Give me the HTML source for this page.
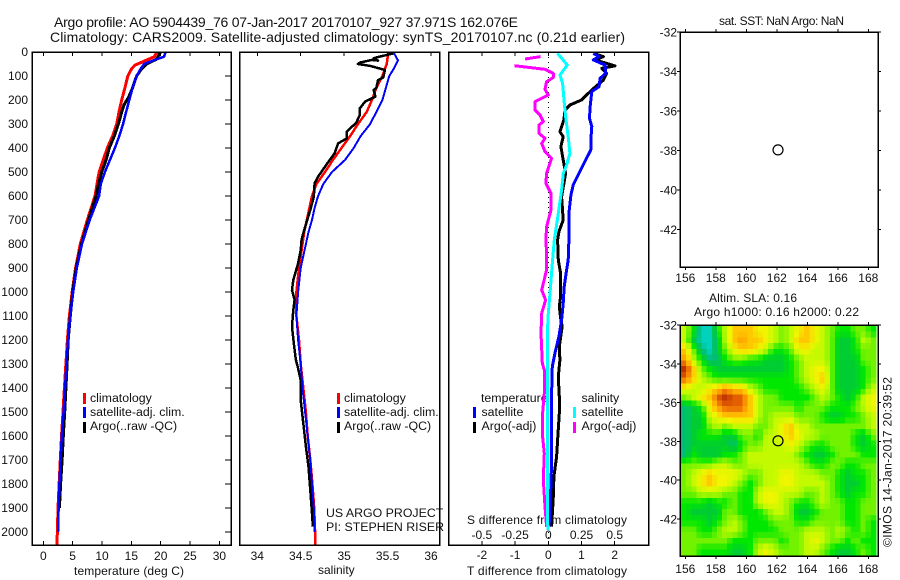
<!DOCTYPE html>
<html lang="en">
<head>
<meta charset="utf-8">
<title>Argo profile chart</title>
<style>
html,body{margin:0;padding:0;background:#fff;}
svg{display:block;}
text{font-family:"Liberation Sans",sans-serif;font-size:12px;fill:#111;}
text.lg{font-size:12.35px;}
</style>
</head>
<body>
<svg id="chart" xmlns="http://www.w3.org/2000/svg" width="900" height="580" viewBox="0 0 900 580">
<rect x="0" y="0" width="900" height="580" fill="#fff"/>
<text x="54" y="27" style="font-size:14px" textLength="464" lengthAdjust="spacing">Argo profile: AO 5904439_76 07-Jan-2017 20170107_927 37.971S 162.076E</text>
<text x="50" y="42" style="font-size:14px" textLength="575" lengthAdjust="spacing">Climatology: CARS2009. Satellite-adjusted climatology: synTS_20170107.nc (0.21d earlier)</text>

<text x="74" y="575" textLength="110" lengthAdjust="spacing">temperature (deg C)</text>
<text x="318" y="574">salinity</text>
<text x="467" y="575" textLength="160" lengthAdjust="spacing">T difference from climatology</text>
<text x="467" y="524" textLength="160" lengthAdjust="spacing">S difference from climatology</text>

<rect x="83" y="393" width="3" height="11" fill="#f00"/>
<rect x="83" y="407" width="3" height="11" fill="#00f"/>
<rect x="83" y="422" width="3" height="11" fill="#000"/>
<text class="lg" x="90" y="402">climatology</text>
<text class="lg" x="90" y="416">satellite-adj. clim.</text>
<text class="lg" x="90" y="430">Argo(..raw -QC)</text>

<rect x="337" y="393" width="3" height="11" fill="#f00"/>
<rect x="337" y="407" width="3" height="11" fill="#00f"/>
<rect x="337" y="422" width="3" height="11" fill="#000"/>
<text class="lg" x="344" y="402">climatology</text>
<text class="lg" x="344" y="416">satellite-adj. clim.</text>
<text class="lg" x="344" y="430">Argo(..raw -QC)</text>
<text class="lg" x="326" y="517">US ARGO PROJECT</text>
<text class="lg" x="326" y="531">PI: STEPHEN RISER</text>

<text class="lg" x="481" y="402">temperature</text>
<rect x="473" y="407" width="3" height="11" fill="#00f"/>
<rect x="473" y="422" width="3" height="11" fill="#000"/>
<text class="lg" x="481.500" y="416">satellite</text>
<text class="lg" x="481.500" y="430">Argo(-adj)</text>
<text class="lg" x="581.500" y="402">salinity</text>
<rect x="573" y="407" width="3" height="11" fill="#0ff"/>
<rect x="573" y="422" width="3" height="11" fill="#f0f"/>
<text class="lg" x="581.500" y="416">satellite</text>
<text class="lg" x="581.500" y="430">Argo(-adj)</text>

<text x="719" y="25" textLength="125" lengthAdjust="spacing">sat. SST: NaN Argo: NaN</text>
<text x="709" y="302" textLength="88" lengthAdjust="spacing">Altim. SLA: 0.16</text>
<text x="694" y="316" textLength="165" lengthAdjust="spacing">Argo h1000: 0.16 h2000: 0.22</text>
<text transform="translate(891.500,547) rotate(-90)" textLength="170" lengthAdjust="spacing">©IMOS 14-Jan-2017 20:39:52</text>
</svg>
<script>
const depthTicks = [0,100,200,300,400,500,600,700,800,900,1000,1100,1200,1300,1400,1500,1600,1700,1800,1900,2000];
const tempTicks = [0,5,10,15,20,25,30];
const salTicks = [34,34.5,35,35.5,36];
const tDiffTicks = [-2,-1,0,1,2];
const sDiffTicks = [-0.5,-0.25,0,0.25,0.5];
const sDiffLabels = ['-0.5','-0.25','0','0.25','0.5'];
const lonTicks = [156,158,160,162,164,166,168];
const latTicks = [-32,-34,-36,-38,-40,-42];

const tempDepths = [0,20,40,55,70,100,150,200,250,300,350,400,450,500,550,600,700,800,900,1000,1100,1200,1300,1400,1500,1600,1700,1800,1900,2000,2054];
const tempClim = [19.4,18.9,17.0,15.6,15.05,14.4,13.9,13.35,12.9,12.5,11.8,10.9,10.2,9.5,9.15,8.8,7.5,6.3,5.5,4.9,4.45,4.1,3.85,3.6,3.35,3.1,2.9,2.7,2.5,2.4,2.3];
const tempSatDepths = [0,20,30,50,70,100,150,200,250,300,350,400,450,500,550,600,700,800,900,1000,1100,1200,1300,1400,1500,1600,1700,1800,1900,2000];
const tempSat = [20.85,20.55,19.3,17.15,16.6,15.9,15.2,14.65,14.1,13.6,12.95,12.2,11.35,10.5,9.8,9.5,7.9,6.6,5.7,5.1,4.6,4.2,3.95,3.7,3.45,3.15,2.95,2.75,2.6,2.5];
const tempArgoDepths = [0,30,50,70,100,150,190,220,250,300,350,400,450,500,550,600,700,800,900,1000,1100,1200,1300,1400,1500,1600,1700,1800,1900];
const tempArgo = [20,19.3,17.6,16.75,15.9,15.2,14.5,13.75,13.35,12.8,12.1,11.25,10.7,9.95,9.4,9.0,7.7,6.5,5.6,5.0,4.6,4.25,4.05,3.85,3.65,3.4,3.2,2.95,2.75];

const salDepths = [0,50,100,150,200,250,300,350,400,450,500,550,600,650,700,750,800,900,1000,1100,1200,1300,1400,1500,1600,1700,1800,1900,2000,2054];
const salClim = [35.51,35.49,35.44,35.37,35.32,35.26,35.16,35.07,34.97,34.87,34.78,34.68,34.63,34.6,34.57,34.54,34.52,34.48,34.45,34.45,34.48,34.5,34.53,34.56,34.58,34.61,34.635,34.655,34.665,34.67];
const salSatDepths = [0,35,70,100,150,200,250,300,350,400,450,500,550,600,650,700,750,800,900,1000,1100,1200,1300,1400,1500,1600,1700,1800,1900,2000];
const salSat = [35.566,35.62,35.57,35.52,35.48,35.44,35.37,35.3,35.19,35.11,35.01,34.86,34.76,34.7,34.66,34.63,34.59,34.56,34.5,34.47,34.45,34.47,34.5,34.52,34.55,34.58,34.61,34.63,34.65,34.66];
const salArgoDepths = [6,19,26,36,33,44,50,58,75,106,117,151,158,186,207,235,263,294,332,360,381,422,457,519,547,603,658,742,781,825,881,950,992,1033,1075,1144,1214,1283,1318,1367,1450,1547,1644,1728,1825,1922,1978];
const salArgo = [35.566,35.41,35.34,35.39,35.32,35.18,35.16,35.3,35.47,35.45,35.39,35.37,35.34,35.36,35.24,35.18,35.18,35.14,35.03,35.03,34.93,34.89,34.82,34.7,34.66,34.65,34.61,34.54,34.51,34.5,34.47,34.415,34.4,34.43,34.415,34.4,34.42,34.445,34.47,34.5,34.5,34.53,34.56,34.59,34.61,34.63,34.64];

const dtSatDepths = [6,19,33,54,89,110,144,165,228,276,311,367,408,457,512,554,596,672,783,867,908,978,1047,1117,1186,1256,1311,1422,1714,1783,1894,1978];
const dtSat = [1.355,1.53,1.355,1.71,1.73,1.56,1.53,1.31,1.26,1.24,1.31,1.28,1.28,1.1,0.9,0.75,0.68,0.62,0.62,0.6,0.55,0.48,0.45,0.4,0.32,0.2,0.12,0.1,0.1,0.08,0.06,0.02];
const dtArgoDepths = [6,19,33,58,68,89,117,158,200,221,242,283,332,353,394,450,506,603,700,749,783,867,922,1019,1061,1117,1144,1228,1283,1353,1436,1506,1617,1686,1769,1853,1978];
const dtArgo = [1.355,1.66,1.41,2.01,1.61,1.76,1.66,1.31,1.0,0.65,0.5,0.47,0.35,0.45,0.38,0.45,0.52,0.4,0.45,0.32,0.28,0.3,0.37,0.37,0.33,0.38,0.42,0.33,0.35,0.3,0.33,0.33,0.28,0.25,0.17,0.15,0.1];
const dsSatDepths = [6,26,54,96,131,200,269,353,422,471,506,575,672,783,881,1006,1089,1172,1450,1644,1783,1964,1992];
const dsSat = [0.0675,0.1,0.143,0.088,0.108,0.118,0.13,0.15,0.163,0.138,0.113,0.1,0.075,0.045,0.03,0.0125,0,-0.0075,-0.005,-0.0075,-0.005,-0.005,0];
const dsArgoDepths = [19,29,40,57,72,89,106,124,156,179,207,242,262,290,304,339,360,381,415,443,506,547,589,658,728,783,839,908,964,992,1033,1089,1172,1297,1325,1422,1506,1603,1672,1783,1894,1978];
const dsArgo = [-0.058,-0.175,null,-0.255,-0.025,0.038,0.038,-0.013,-0.025,0,-0.1,-0.1,-0.063,-0.038,-0.07,-0.07,-0.025,-0.05,-0.025,0.025,-0.013,-0.018,0.02,0.02,-0.013,-0.018,-0.013,-0.013,-0.038,-0.05,-0.02,-0.05,-0.055,-0.045,-0.03,-0.03,-0.043,-0.043,-0.03,-0.038,-0.025,-0.013];

const floatLon = 162.08;
const floatLat = -37.97;

/* altimeter sea level anomaly in tenths, north to south, west to east */
const slaRow01 = [1,-1,-4,-4,-1,1,3,3,3,2,2,1,0,1,2,3,2,1,0,-1,-1,0,0,-1];
const slaRow02 = [1,-2,-4,-4,-2,1,3,4,3,3,2,1,0,1,3,3,2,1,0,-2,-2,-1,1,0];
const slaRow03 = [3,0,-3,-4,-2,0,2,3,3,2,1,-1,-1,0,2,2,1,1,0,-2,-2,-1,0,0];
const slaRow04 = [4,1,-1,-3,-3,-1,0,0,-1,-1,-2,-2,-2,-1,0,1,1,1,0,-2,-2,-2,0,0];
const slaRow05 = [6,3,0,-1,-2,-2,-2,-2,-2,-2,-2,-2,-2,-1,0,1,2,2,0,-2,-2,-2,-1,0];
const slaRow06 = [5,3,1,0,-1,-1,-1,-1,-1,-1,-1,-1,-1,-1,0,1,2,3,0,-2,-2,-2,-1,0];
const slaRow07 = [2,1,1,2,3,4,3,3,1,0,-1,-1,-1,-1,-1,0,1,2,0,-2,-2,-2,-1,1];
const slaRow08 = [0,1,2,3,5,6,5,5,3,1,0,0,-1,-1,-1,-1,0,1,0,-1,-2,-1,1,2];
const slaRow09 = [-3,-2,-1,2,4,5,5,5,3,1,0,0,0,0,-1,0,0,0,-1,-1,-1,0,1,2];
const slaRow10 = [-3,-2,-2,1,2,3,3,3,3,1,0,1,1,1,0,0,0,-1,-2,-2,-1,-1,0,1];
const slaRow11 = [-3,-2,-2,0,1,0,1,1,1,0,0,1,2,3,1,1,0,0,0,0,0,0,0,1];
const slaRow12 = [-3,-2,-1,-1,-1,-2,-2,0,0,-1,1,1,2,3,2,1,1,0,0,0,0,-1,-2,0];
const slaRow13 = [-3,-2,-2,-2,-2,-2,-3,-1,0,0,1,1,1,2,1,0,-1,-1,0,0,0,-1,-2,-1];
const slaRow14 = [-3,-1,-2,-2,-2,-1,-1,0,1,1,1,1,1,1,0,-1,-2,-2,-1,0,0,0,-1,-1];
const slaRow15 = [0,0,0,0,1,1,0,0,1,1,1,1,1,1,1,0,-1,-1,0,0,-1,-1,0,0];
const slaRow16 = [0,1,2,3,2,2,2,1,0,0,1,1,2,2,1,1,1,0,0,-1,-2,-1,-1,0];
const slaRow17 = [0,1,2,3,2,2,1,0,-1,0,1,1,2,2,1,1,1,1,0,-1,-2,-2,-1,0];
const slaRow18 = [0,0,1,1,1,0,0,-1,-1,1,2,2,1,1,1,0,0,1,0,-1,-2,-1,-1,0];
const slaRow19 = [-1,-1,-1,-2,-1,-1,0,-1,-1,1,2,2,1,0,-1,-1,0,1,0,0,-1,-1,0,0];
const slaRow20 = [-1,-2,-2,-2,-2,0,0,-1,-1,-1,0,1,1,0,-2,-2,-1,0,0,0,-1,-1,0,0];
const slaRow21 = [-1,-1,-1,-2,-1,0,1,0,-1,-1,-1,0,0,0,-1,-1,0,0,0,0,-1,-1,0,-1];
const slaRow22 = [0,0,-1,-1,0,1,1,0,-1,-1,-1,-1,0,0,0,1,1,1,0,1,0,-1,0,-1];
const slaRow23 = [0,0,0,0,0,0,-1,-1,-1,0,0,0,-1,0,0,1,2,1,0,0,-1,0,-1,-1];
const slaRow24 = [0,0,-1,-1,-1,-1,-2,-2,-1,1,2,1,0,0,0,1,1,0,-1,-2,-2,-1,0,-1];
const slaRows = [slaRow01,slaRow02,slaRow03,slaRow04,slaRow05,slaRow06,slaRow07,slaRow08,slaRow09,slaRow10,slaRow11,slaRow12,slaRow13,slaRow14,slaRow15,slaRow16,slaRow17,slaRow18,slaRow19,slaRow20,slaRow21,slaRow22,slaRow23,slaRow24];

const svg = document.getElementById('chart');
const NS = 'http://www.w3.org/2000/svg';

function make(tag, attrs, parent) {
  const el = document.createElementNS(NS, tag);
  for (const k in attrs) el.setAttribute(k, attrs[k]);
  (parent || svg).appendChild(el);
  return el;
}
function line(x1, y1, x2, y2, name, parent) {
  const el = make('line', {x1: x1, y1: y1, x2: x2, y2: y2, stroke: '#000', 'stroke-width': 1, 'shape-rendering': 'crispEdges'}, parent);
  
  
  return el;
}
function label(x, y, str, anchor, name) {
  const el = make('text', {x: x, y: y, 'text-anchor': anchor});
  el.textContent = str;
  
  
  return el;
}
function frame(x, y, w, h, name) {
  const el = make('rect', {x: x, y: y, width: w, height: h, fill: 'none', stroke: '#000', 'stroke-width': 1.5, 'shape-rendering': 'crispEdges'});
  
  
  return el;
}
function series(xs, depths, sx, color, width, name) {
  let pts = [];
  const flush = () => {
    if (pts.length) {
      const el = make('polyline', {points: pts.join(' '), fill: 'none', stroke: color, 'stroke-width': width, 'stroke-linejoin': 'round', 'shape-rendering': 'crispEdges'});
      
      
    }
    pts = [];
  };
  xs.forEach((v, i) => {
    if (v === null) { flush(); return; }
    pts.push(sx(v).toFixed(1) + ',' + yDepth(depths[i]).toFixed(1));
  });
  flush();
}

const PT = 52, PB = 545;
const yDepth = d => 52 + 0.24 * d;
const xTemp = t => 43.3 + 5.87 * t;
const xSal = s => 257.3 + 86.85 * (s - 34);
const xDT = t => 548.3 + 33.2 * t;
const xDS = s => 548.3 + 132.8 * s;

/* temperature panel */
series(tempClim, tempDepths, xTemp, '#f00', 3, 'temperature-climatology-line');
series(tempArgo, tempArgoDepths, xTemp, '#000', 3, 'temperature-argo-line');
series(tempSat, tempSatDepths, xTemp, '#00f', 2.5, 'temperature-satellite-line');
frame(32, PT, 199, PB - PT, 'temperature-panel-frame');
depthTicks.forEach(d => {
  label(28, yDepth(d) + 4, String(d), 'end', 'depth-tick-label');
  line(225, yDepth(d), 231, yDepth(d), 'depth-tick-mark');
});
tempTicks.forEach(t => {
  label(xTemp(t), 560, String(t), 'middle', 'temperature-tick-label');
  line(xTemp(t), PT, xTemp(t), PT + 4, 'temperature-top-tick');
  line(xTemp(t), PB - 4, xTemp(t), PB, 'temperature-bottom-tick');
});

/* salinity panel */
series(salClim, salDepths, xSal, '#f00', 2.5, 'salinity-climatology-line');
series(salArgo, salArgoDepths, xSal, '#000', 2.5, 'salinity-argo-line');
series(salSat, salSatDepths, xSal, '#00f', 2, 'salinity-satellite-line');
frame(239.500, PT, 200, PB - PT, 'salinity-panel-frame');
salTicks.forEach(s => {
  label(xSal(s), 560, String(s), 'middle', 'salinity-tick-label');
  line(xSal(s), PT, xSal(s), PT + 4, 'salinity-top-tick');
});

/* difference panel */
const zero = make('line', {x1: xDT(0), y1: PT, x2: xDT(0), y2: PB, stroke: '#000', 'stroke-width': 1, 'stroke-dasharray': '1 4', 'shape-rendering': 'crispEdges'});


series(dtArgo, dtArgoDepths, xDT, '#000', 3, 'difference-t-argo-line');
series(dtSat, dtSatDepths, xDT, '#00f', 3, 'difference-t-satellite-line');
series(dsArgo, dsArgoDepths, xDS, '#f0f', 3, 'difference-s-argo-line');
series(dsSat, dsSatDepths, xDS, '#0ff', 3, 'difference-s-satellite-line');
frame(448.500, PT, 200, PB - PT, 'difference-panel-frame');
tDiffTicks.forEach(t => {
  label(xDT(t), 559, String(t), 'middle', 't-difference-tick-label');
  line(xDT(t), PT, xDT(t), PT + 4, 'difference-top-tick');
  line(xDT(t), PB - 4, xDT(t), PB, 'difference-bottom-tick');
});
sDiffTicks.forEach((s, i) => {
  label(xDS(s), 539, sDiffLabels[i], 'middle', 's-difference-tick-label');
});

/* maps */
const xLon = lon => 685.3 + 15.25 * (lon - 156);
function drawMapAxes(top, bottom, yLat, labelY, prefix) {
  frame(680, top, 198, bottom - top, prefix + '-map-frame');
  latTicks.forEach(v => {
    label(677, yLat(v) + 4.5, String(v), 'end', prefix + '-latitude-tick-label');
    line(677, yLat(v), 680, yLat(v), prefix + '-latitude-tick-left');
    line(878, yLat(v), 881, yLat(v), prefix + '-latitude-tick-right');
  });
  lonTicks.forEach(v => {
    label(xLon(v), labelY, String(v), 'middle', prefix + '-longitude-tick-label');
    line(xLon(v), top - 3, xLon(v), top, prefix + '-longitude-tick-top');
    line(xLon(v), bottom, xLon(v), bottom + 3, prefix + '-longitude-tick-bottom');
  });
  const c = make('circle', {cx: xLon(floatLon), cy: yLat(floatLat), r: 5, fill: 'none', stroke: '#000', 'stroke-width': 1.2});
  
  
}

/* SLA heat map: grid values are drawn as smoothed 5-pixel blocks */
const stops = [[-4,0,210,190],[-3,0,190,120],[-2,0,205,50],[-1,0,232,0],[0,115,242,0],[1,195,250,0],[2,240,245,0],[3,255,200,0],[4,255,160,0],[5,228,95,0],[6,190,50,0]];
function slaColor(v) {
  const lo = Math.max(-4, Math.min(6, v));
  let i = 0;
  while (i < stops.length - 2 && lo > stops[i + 1][0]) i++;
  const a = stops[i], b = stops[i + 1], f = (lo - a[0]) / (b[0] - a[0]);
  const mix = k => Math.round(a[k] + (b[k] - a[k]) * f);
  return 'rgb(' + mix(1) + ',' + mix(2) + ',' + mix(3) + ')';
}
function slaAt(u, w) {
  const nc = slaRows[0].length, nr = slaRows.length;
  const cu = Math.max(0, Math.min(nc - 1.001, u));
  const cw2 = Math.max(0, Math.min(nr - 1.001, w));
  const c0 = Math.floor(cu), r0 = Math.floor(cw2);
  const fu = cu - c0, fw = cw2 - r0;
  const top = slaRows[r0][c0] * (1 - fu) + slaRows[r0][c0 + 1] * fu;
  const bot = slaRows[r0 + 1][c0] * (1 - fu) + slaRows[r0 + 1][c0 + 1] * fu;
  return top * (1 - fw) + bot * fw;
}
const HX = 681, HY = 326, HW = 195, HH = 229;
const blockW = 5.08, blockH = 5.75;
const blockCols = Math.round(HW / blockW), blockRows = Math.round(HH / blockH);
for (let r = 0; r < blockRows; r++) {
  for (let c = 0; c < blockCols; c++) {
    const u = (c + 0.5) / blockCols * slaRows[0].length - 0.5;
    const w = (r + 0.5) / blockRows * slaRows.length - 0.5;
    const bw = HW / blockCols, bh = HH / blockRows;
    const cell = make('rect', {x: (HX + c * bw).toFixed(2), y: (HY + r * bh).toFixed(2), width: (bw + 0.5).toFixed(2), height: (bh + 0.5).toFixed(2), fill: slaColor(slaAt(u, w)), 'shape-rendering': 'crispEdges'});
    
    
  }
}

drawMapAxes(32, 267, lat => 32 + 19.75 * (-32 - lat), 282, 'sst');
drawMapAxes(325, 556, lat => 325 + 19.4 * (-32 - lat), 573, 'sla');
</script>
</body>
</html>
